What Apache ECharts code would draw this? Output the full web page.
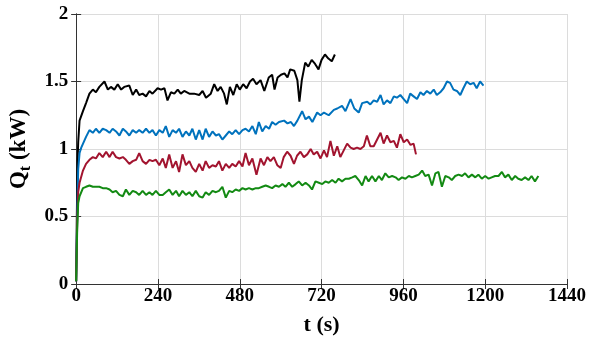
<!DOCTYPE html>
<html>
<head>
<meta charset="utf-8">
<script src="https://cdn.jsdelivr.net/npm/echarts@6/dist/echarts.min.js"></script>
<style>html,body{margin:0;padding:0;background:#fff}#c{width:590px;height:341px}</style>
</head>
<body>
<div id="c"></div>
<script>
var xTicks = [0, 240, 480, 720, 960, 1200, 1440];
var yTicks = [0, 0.5, 1, 1.5, 2];

var blackT = [0,2,4,6,10,20,29,39,49,58,68,83,93,102,112,122,132,141,156,166,176,185,195,205,215,224,239,249,259,268,278,288,298,307,317,332,346,361,371,381,395,405,415,424,434,442,451,461,471,480,490,500,510,519,529,541,552,565,575,582,591,601,611,620,628,640,649,655,662,672,681,691,701,711,720,730,740,750,759];
var blackQ = [0.02,0.5,0.9,1.05,1.21,1.28,1.34,1.41,1.44,1.42,1.46,1.50,1.44,1.46,1.44,1.48,1.44,1.46,1.47,1.40,1.44,1.40,1.41,1.39,1.43,1.41,1.45,1.44,1.45,1.36,1.42,1.41,1.44,1.41,1.43,1.41,1.41,1.40,1.43,1.38,1.41,1.48,1.43,1.46,1.41,1.33,1.46,1.40,1.48,1.44,1.48,1.45,1.50,1.52,1.48,1.51,1.43,1.53,1.55,1.44,1.53,1.55,1.56,1.53,1.59,1.58,1.51,1.35,1.51,1.64,1.61,1.66,1.63,1.59,1.66,1.70,1.67,1.65,1.70];

var blueT = [0,3,6,10,15,29,39,49,58,68,78,88,98,107,117,127,137,146,156,166,176,185,195,205,215,224,234,244,254,263,273,283,293,302,312,322,332,341,351,361,371,380,390,400,410,419,429,439,449,458,468,478,488,497,507,517,527,536,546,556,566,575,585,595,610,620,630,639,649,663,673,683,693,707,717,727,741,756,766,780,790,805,816,829,839,854,863,873,883,893,902,912,922,932,941,951,961,971,980,990,1000,1010,1019,1029,1039,1049,1058,1068,1078,1088,1097,1107,1117,1127,1136,1146,1156,1166,1175,1185,1195];
var blueQ = [0.02,0.5,0.85,0.97,1.01,1.09,1.14,1.12,1.15,1.12,1.15,1.14,1.12,1.15,1.13,1.10,1.15,1.13,1.10,1.14,1.12,1.14,1.12,1.15,1.12,1.14,1.10,1.14,1.12,1.17,1.09,1.14,1.12,1.15,1.09,1.13,1.10,1.15,1.07,1.14,1.07,1.15,1.09,1.13,1.10,1.11,1.07,1.10,1.13,1.11,1.14,1.11,1.14,1.15,1.13,1.17,1.11,1.20,1.13,1.17,1.15,1.20,1.18,1.20,1.21,1.19,1.20,1.17,1.21,1.28,1.22,1.24,1.20,1.27,1.25,1.27,1.25,1.29,1.30,1.32,1.28,1.37,1.30,1.27,1.34,1.35,1.33,1.36,1.35,1.40,1.33,1.36,1.34,1.39,1.38,1.40,1.37,1.34,1.41,1.39,1.37,1.42,1.40,1.43,1.41,1.44,1.40,1.42,1.45,1.50,1.49,1.44,1.43,1.40,1.45,1.50,1.48,1.49,1.45,1.50,1.47];

var redT = [0,3,6,10,20,29,39,49,58,68,78,88,98,107,117,127,137,146,156,166,176,185,195,205,215,224,234,244,254,263,273,283,293,302,312,322,332,341,351,361,371,380,390,400,410,419,429,439,449,458,468,478,488,497,507,517,529,541,551,561,570,580,590,600,609,619,629,639,648,658,668,678,688,697,707,717,727,736,746,756,766,775,785,795,805,814,824,834,844,853,863,873,883,893,902,912,922,932,941,951,961,971,981,990,997];
var redQ = [0.02,0.45,0.68,0.75,0.84,0.89,0.92,0.94,0.93,0.97,0.94,0.98,0.94,0.98,0.94,0.93,0.94,0.92,0.89,0.91,0.92,0.97,0.91,0.89,0.92,0.91,0.92,0.88,0.93,0.86,0.96,0.86,0.91,0.83,0.96,0.88,0.91,0.86,0.83,0.89,0.84,0.91,0.86,0.88,0.87,0.91,0.84,0.89,0.86,0.89,0.87,0.91,0.87,0.97,0.88,0.93,0.81,0.93,0.88,0.94,0.91,0.94,0.88,0.86,0.94,0.98,0.95,0.89,0.95,0.98,0.94,0.96,1.00,0.96,0.98,0.93,0.99,0.94,1.06,0.95,1.02,0.94,0.99,1.04,1.01,1.00,1.01,1.00,1.02,1.10,1.02,1.02,1.07,1.12,1.04,1.10,1.05,1.06,1.01,1.11,1.05,1.07,1.03,1.04,0.96];

var greenT = [0,3,6,10,20,29,39,49,58,68,78,88,98,107,117,127,137,146,156,166,176,185,195,205,215,224,234,244,254,263,273,283,293,302,312,322,332,341,351,361,371,380,390,400,410,419,429,439,449,458,468,478,488,497,507,517,527,536,546,556,566,575,585,595,605,614,624,634,644,653,663,673,683,692,702,712,722,731,741,751,761,770,780,790,800,810,819,829,839,849,858,868,878,888,897,907,917,927,937,946,956,966,976,985,995,1005,1015,1024,1034,1044,1054,1063,1073,1083,1093,1102,1112,1122,1132,1141,1151,1161,1171,1180,1190,1200,1210,1219,1229,1239,1249,1258,1268,1278,1288,1297,1307,1317,1327,1336,1346,1356];
var greenQ = [0.02,0.4,0.6,0.65,0.71,0.72,0.73,0.72,0.72,0.72,0.71,0.71,0.70,0.68,0.69,0.66,0.65,0.70,0.66,0.69,0.68,0.66,0.69,0.66,0.68,0.66,0.69,0.66,0.66,0.68,0.70,0.66,0.69,0.65,0.69,0.66,0.68,0.65,0.69,0.65,0.64,0.68,0.66,0.69,0.68,0.69,0.72,0.64,0.69,0.68,0.70,0.69,0.71,0.70,0.71,0.70,0.71,0.71,0.72,0.73,0.72,0.71,0.73,0.72,0.74,0.72,0.75,0.72,0.74,0.76,0.73,0.75,0.73,0.70,0.76,0.75,0.74,0.76,0.75,0.77,0.75,0.78,0.76,0.78,0.78,0.79,0.80,0.77,0.73,0.80,0.76,0.80,0.76,0.80,0.77,0.82,0.79,0.80,0.79,0.77,0.79,0.78,0.80,0.79,0.80,0.81,0.84,0.80,0.81,0.73,0.82,0.83,0.72,0.80,0.79,0.77,0.80,0.81,0.80,0.82,0.79,0.81,0.79,0.81,0.78,0.80,0.78,0.79,0.80,0.80,0.83,0.79,0.81,0.77,0.80,0.78,0.77,0.79,0.77,0.80,0.76,0.80];

function pairs(t, q) { return t.map(function (v, i) { return [v, q[i]]; }); }

var font = 'Liberation Serif';
var chart = echarts.init(document.getElementById('c'), null, { renderer: 'canvas' });
var axisLine = { show: true, lineStyle: { color: '#333', width: 1 } };
var grid = { left: 75, right: 23, top: 14, bottom: 57 };

function line(name, t, q, color) {
  return {
    name: name, type: 'line', data: pairs(t, q), showSymbol: false,
    lineStyle: { color: color, width: 2 }, itemStyle: { color: color },
    animation: false, z: 3
  };
}

chart.setOption({
  animation: false,
  backgroundColor: '#fff',
  grid: grid,
  xAxis: [{
    type: 'value', min: 0, max: 1440, interval: 240,
    name: 't (s)', nameLocation: 'middle', nameGap: 30,
    nameTextStyle: { fontFamily: font, fontWeight: 'bold', fontSize: 22, color: '#000' },
    axisLine: axisLine,
    axisTick: { show: true, inside: true, length: 5, lineStyle: { color: '#333' } },
    axisLabel: { fontFamily: font, fontWeight: 'bold', fontSize: 19, color: '#000', margin: 3,
      formatter: function (v) { return String(v); } },
    splitLine: { show: true, lineStyle: { color: '#dcdcdc', width: 1 } }
  }, {
    type: 'value', position: 'top', min: 0, max: 1440, interval: 240,
    axisLine: axisLine,
    axisTick: { show: true, inside: true, length: 5, lineStyle: { color: '#333' } },
    axisLabel: { show: false }, splitLine: { show: false }
  }],
  yAxis: [{
    type: 'value', min: 0, max: 2, interval: 0.5,
    name: '{a|Q}{b|t}{a| (kW)}', nameLocation: 'middle', nameGap: 42, nameRotate: 90,
    nameTextStyle: {
      rich: {
        a: { fontFamily: font, fontWeight: 'bold', fontSize: 23, color: '#000' },
        b: { fontFamily: font, fontWeight: 'bold', fontSize: 16, color: '#000', padding: [12, 0, 0, 0] }
      }
    },
    axisLine: axisLine,
    axisTick: { show: true, inside: true, length: 5, lineStyle: { color: '#333' } },
    axisLabel: { fontFamily: font, fontWeight: 'bold', fontSize: 19, color: '#000', margin: 8,
      formatter: function (v) { return String(v); } },
    splitLine: { show: true, lineStyle: { color: '#dcdcdc', width: 1 } }
  }, {
    type: 'value', position: 'right', min: 0, max: 2, interval: 0.5,
    axisLine: axisLine,
    axisTick: { show: true, inside: true, length: 5, lineStyle: { color: '#333' } },
    axisLabel: { show: false }, splitLine: { show: false }
  }],
  series: [
    line('black', blackT, blackQ, '#000000'),
    line('blue', blueT, blueQ, '#0072BD'),
    line('red', redT, redQ, '#A2142F'),
    line('green', greenT, greenQ, '#138a13')
  ]
});
</script>
</body>
</html>
